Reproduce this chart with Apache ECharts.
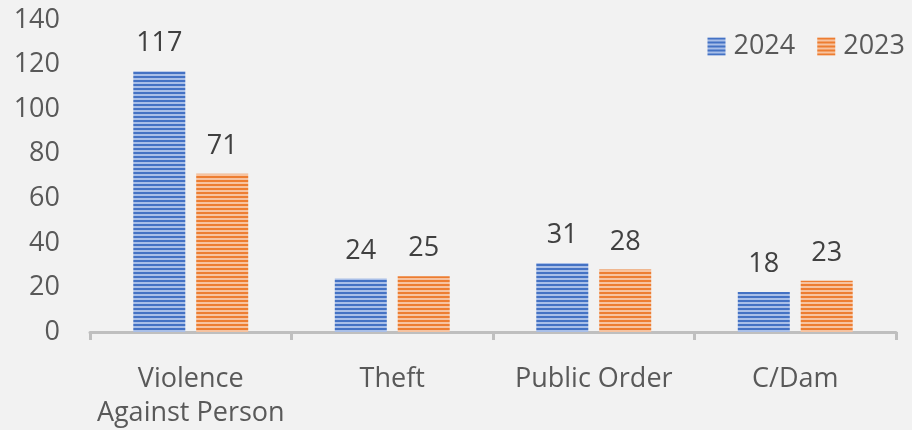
<!DOCTYPE html>
<html>
<head>
<meta charset="utf-8">
<script src="https://cdn.jsdelivr.net/npm/echarts@6/dist/echarts.min.js"></script>
<style>
  * { margin: 0; padding: 0; }
  body { background: #f2f2f2; }
</style>
</head>
<body>
<div id="chart" style="width: 912px;height: 430px;"></div>
<script>
  const categories = ['Violence\nAgainst Person', 'Theft', 'Public Order', 'C/Dam']
  const values2024 = [117, 24, 31, 18]
  const values2023 = [71, 25, 28, 23]
  const yTicks = [0, 20, 40, 60, 80, 100, 120, 140]

  // horizontal stripe fill like the office "narrow horizontal" pattern
  function stripes(dark, light) {
    let c = document.createElement('canvas')
    c.width = 4
    c.height = 4
    let ctx = c.getContext('2d')
    ctx.fillStyle = dark
    ctx.fillRect(0, 0, 4, 4)
    ctx.fillStyle = light
    ctx.fillRect(0, 2, 4, 2)
    return {image: c, repeat: 'repeat'}
  }

  const font = '"Open Sans", "Noto Sans", sans-serif'
  let myChart = echarts.init(document.getElementById('chart'))
  myChart.setOption({
    backgroundColor: '#f2f2f2',
    animation: false,
    grid: {left: 90, right: 16, top: 20, bottom: 98},
    legend: {
      right: 2,
      top: 28,
      itemWidth: 18,
      itemHeight: 18,
      itemGap: 22,
      icon: 'rect',
      textStyle: {fontFamily: font, fontSize: 27, color: '#595959', padding: [0, 0, 0, 3]},
      data: ['2024', '2023']
    },
    xAxis: {
      type: 'category',
      data: categories,
      axisLine: {lineStyle: {color: '#bfbfbf', width: 3}},
      axisTick: {show: true, length: 8, lineStyle: {color: '#bfbfbf', width: 3}},
      axisLabel: {
        fontFamily: font, fontSize: 27, color: '#595959',
        margin: 30, lineHeight: 34, interval: 0
      }
    },
    yAxis: {
      type: 'value',
      min: yTicks[0],
      max: yTicks[yTicks.length - 1],
      interval: 20,
      splitLine: {show: false},
      axisLine: {show: false},
      axisLabel: {fontFamily: font, fontSize: 27, color: '#595959', margin: 30}
    },
    series: [
      {
        name: '2024',
        type: 'bar',
        data: values2024,
        barWidth: 52,
        barGap: '21%',
        itemStyle: {color: stripes('#4472c4', '#a9bfe8')},
        label: {show: true, position: 'top', distance: 14, fontFamily: font, fontSize: 27, color: '#404040'}
      },
      {
        name: '2023',
        type: 'bar',
        data: values2023,
        barWidth: 52,
        barGap: '21%',
        itemStyle: {color: stripes('#ed7d31', '#f7c3a0')},
        label: {show: true, position: 'top', distance: 14, fontFamily: font, fontSize: 27, color: '#404040'}
      }
    ]
  })
</script>
</body>
</html>
